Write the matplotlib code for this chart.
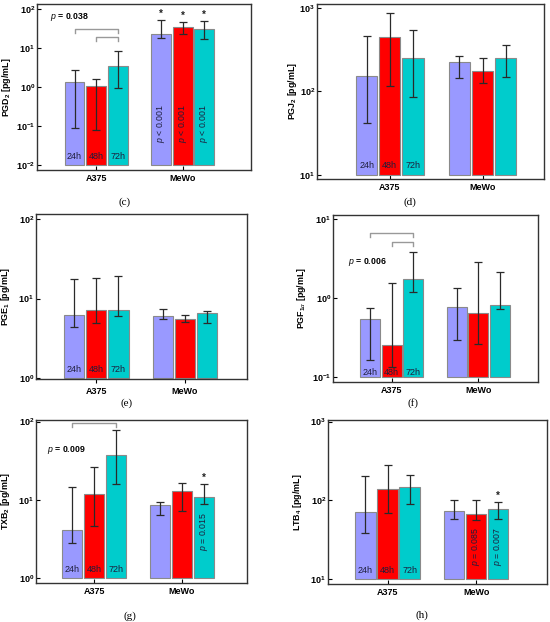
import matplotlib
matplotlib.use("Agg")
import matplotlib.pyplot as plt
from matplotlib.ticker import FuncFormatter, LogLocator, NullLocator
import numpy as np

plt.rcParams['font.family'] = ['Liberation Sans', 'DejaVu Sans']
plt.rcParams['mathtext.fontset'] = 'custom'
plt.rcParams['mathtext.rm'] = 'Liberation Sans'
plt.rcParams['mathtext.it'] = 'Liberation Sans:italic'
plt.rcParams['mathtext.bf'] = 'Liberation Sans:bold'

groups = ['A375', 'MeWo']
times = ['24h', '48h', '72h']
bar_colors = ['#9999FF', '#FF0000', '#00CCCC']

# means and error bar ends, rows = groups, cols = 24h/48h/72h
pgd2_mean = [[1.34, 1.04, 3.5], [22.4, 34.0, 31.0]]
pgd2_lo = [[0.089, 0.078, 0.92], [17.7, 23.3, 17.0]]
pgd2_hi = [[2.78, 1.6, 8.2], [53.0, 46.0, 50.0]]

pgj2_mean = [[154, 445, 251], [223, 177, 251]]
pgj2_lo = [[41.7, 115, 85.5], [145, 126, 149]]
pgj2_hi = [[457, 870, 540], [268, 251, 363]]

pge1_mean = [[6.17, 7.15, 7.2], [6.0, 5.56, 6.55]]
pge1_lo = [[4.45, 5.0, 6.05], [5.6, 5.14, 4.95]]
pge1_hi = [[17.7, 18.0, 19.0], [7.35, 6.3, 7.07]]

pgf1a_mean = [[0.542, 0.254, 1.76], [0.77, 0.66, 0.824]]
pgf1a_lo = [[0.163, 0.134, 1.21], [0.297, 0.262, 0.726]]
pgf1a_hi = [[0.76, 1.58, 3.9], [1.33, 2.86, 2.13]]

txb2_mean = [[4.14, 11.8, 37.2], [8.55, 13.0, 10.7]]
txb2_lo = [[2.8, 4.57, 15.9], [6.44, 7.1, 8.9]]
txb2_hi = [[14.5, 25.9, 77.0], [9.5, 16.5, 15.9]]

ltb4_mean = [[70.4, 140, 149], [74.0, 67.1, 78.5]]
ltb4_lo = [[38.1, 68.4, 89.0], [57.4, 56.3, 57.4]]
ltb4_hi = [[204, 278, 212], [100, 102, 96]]

fig = plt.figure(figsize=(5.5, 6.22), dpi=100)
W, H = 550.0, 622.0

def axes_px(l, r, t, b):
    return fig.add_axes([l / W, 1 - b / H, (r - l) / W, (b - t) / H])

def fmt(v, pos):
    return r'$\mathbf{10^{%d}}$' % int(round(np.log10(v)))

step = 0.25
width = 0.23
txt_col = '#1e1e3c'

def panel(box, mean, lo, hi, ylab, dec, ylog, xl, tag, tagpos, ylab_off,
          time_y, tickdir='in'):
    ax = axes_px(*box)
    ax.set_yscale('log')
    base = 10.0 ** dec[0]
    for g in range(2):
        for i in range(3):
            x = g + (i - 1) * step
            m = mean[g][i]
            ax.bar(x, m - base, bottom=base, width=width, color=bar_colors[i],
                   edgecolor='#8a8a8a', linewidth=0.8, zorder=2)
            ax.errorbar(x, m, yerr=[[m - lo[g][i]], [hi[g][i] - m]], fmt='none',
                        ecolor='#2a2a2a', elinewidth=0.9, capsize=2.6,
                        capthick=0.9, zorder=3)
    for i, t in enumerate(times):
        ax.text((i - 1) * step, time_y, t, transform=ax.get_xaxis_transform(),
                ha='center', va='center', fontsize=6.5, color=txt_col, zorder=4)
    ax.set_xlim(*xl)
    ax.set_ylim(10.0 ** ylog[0], 10.0 ** ylog[1])
    ax.yaxis.set_major_locator(LogLocator(base=10, numticks=10))
    ax.yaxis.set_minor_locator(NullLocator())
    ax.yaxis.set_major_formatter(FuncFormatter(fmt))
    ax.set_xticks([0, 1])
    ax.set_xticklabels(groups, fontweight='bold')
    ax.tick_params(axis='y', direction='in', length=3, width=0.8, labelsize=6.5, pad=1.5)
    ax.tick_params(axis='x', direction=tickdir, length=3, width=0.8, labelsize=6.5, pad=3)
    for s in ax.spines.values():
        s.set_linewidth(1.0)
        s.set_color('#333333')
    ax.set_ylabel(ylab, fontsize=6.4, fontweight='bold')
    ax.yaxis.set_label_coords(-ylab_off / (box[1] - box[0]), 0.5)
    fig.text(tagpos[0] / W, 1 - tagpos[1] / H, tag, family='Liberation Serif',
             fontsize=8, ha='center', va='center')
    return ax

def bracket(ax, x0, x1, ytop, ybot):
    tr = ax.get_xaxis_transform()
    ax.plot([x0, x0, x1, x1], [ybot, ytop, ytop, ybot], color='#999999',
            lw=1.0, transform=tr, clip_on=False, zorder=1)

def star(ax, x, y):
    ax.annotate('*', (x, y), xytext=(0, 1), textcoords='offset points',
                ha='center', va='bottom', fontsize=7, fontweight='bold', color='#222222')

def ptext(ax, x, y, s):
    ax.text(x, y, s, transform=ax.get_xaxis_transform(), rotation=90,
            ha='center', va='center', fontsize=6.3, color=txt_col, zorder=4)

# (c) PGD2
ax = panel((37, 251, 4, 170), pgd2_mean, pgd2_lo, pgd2_hi,
           r'PGD$_\mathbf{2}$ [pg/mL]', (-2, 2), (-2.128, 2.128), (-0.684, 1.79),
           '(c)', (125, 202), 24, 0.08)
bracket(ax, -step, step, 0.848, 0.823)
bracket(ax, 0, step, 0.803, 0.779)
ax.text(0.06, 0.923, r'$\it{p}$ = 0.038', transform=ax.transAxes, fontsize=6.3,
        fontweight='bold', va='center')
for i in range(3):
    star(ax, 1 + (i - 1) * step, pgd2_hi[1][i])
    ptext(ax, 1 + (i - 1) * step, 0.28, r'$\it{p}$ < 0.001')

# (d) PGJ2
ax = panel((317, 544, 4, 179), pgj2_mean, pgj2_lo, pgj2_hi,
           r'PGJ$_\mathbf{2}$ [pg/mL]', (1, 3), (0.948, 3.05), (-0.785, 1.663),
           '(d)', (410, 202), 18, 0.078)

# (e) PGE1
ax = panel((36, 247, 214, 379), pge1_mean, pge1_lo, pge1_hi,
           r'PGE$_\mathbf{1}$ [pg/mL]', (0, 2), (-0.01, 2.063), (-0.68, 1.70),
           '(e)', (127, 403), 23.5, 0.056, tickdir='out')

# (f) PGF1a
ax = panel((333, 538, 215, 382), pgf1a_mean, pgf1a_lo, pgf1a_hi,
           r'PGF$_{\mathbf{1}\alpha}$ [pg/mL]', (-1, 1), (-1.06, 1.054), (-0.678, 1.69),
           '(f)', (413, 403), 25.3, 0.054)
bracket(ax, -step, step, 0.89, 0.866)
bracket(ax, 0, step, 0.84, 0.816)
ax.text(0.075, 0.72, r'$\it{p}$ = 0.006', transform=ax.transAxes, fontsize=6.3,
        fontweight='bold', va='center')

# (g) TXB2
ax = panel((36, 247, 420, 583), txb2_mean, txb2_lo, txb2_hi,
           r'TXB$_\mathbf{2}$ [pg/mL]', (0, 2), (-0.064, 2.02), (-0.665, 1.741),
           '(g)', (130, 616), 23.5, 0.08)
bracket(ax, -step, step, 0.983, 0.959)
ax.text(0.05, 0.816, r'$\it{p}$ = 0.009', transform=ax.transAxes, fontsize=6.3,
        fontweight='bold', va='center')
star(ax, 1 + step, txb2_hi[1][2])
ptext(ax, 1 + step, 0.316, r'$\it{p}$ = 0.015')

# (h) LTB4
ax = panel((328, 547, 420, 584), ltb4_mean, ltb4_lo, ltb4_hi,
           r'LTB$_\mathbf{4}$ [pg/mL]', (1, 3), (0.94, 3.02), (-0.672, 1.8),
           '(h)', (422, 615), 23.7, 0.08)
star(ax, 1 + step, ltb4_hi[1][2])
ptext(ax, 1, 0.23, r'$\it{p}$ = 0.085')
ptext(ax, 1 + step, 0.23, r'$\it{p}$ = 0.007')

fig.savefig('out.png', dpi=100)
